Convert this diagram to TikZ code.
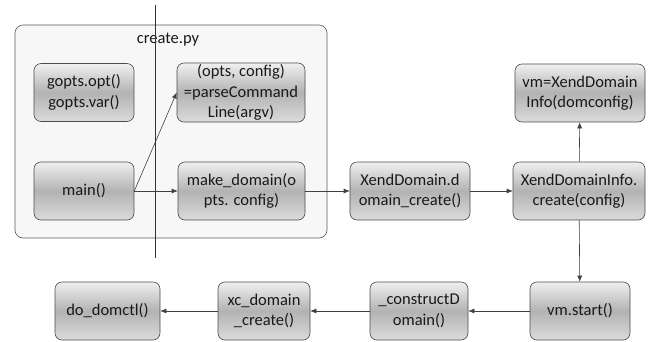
\documentclass[tikz,border=0pt]{standalone}
\usepackage{fontspec}
\setmainfont{Carlito}
\usepackage{tikz}
\usetikzlibrary{arrows.meta}

\begin{document}
\begin{tikzpicture}[x=1pt,y=-1pt,->,>={Latex[length=6pt,width=5pt]},color=black!75,line width=0.6pt]
  \tikzstyle{box}=[draw=black!70, rounded corners=7pt, align=center, text=black!90,
    top color=black!6, bottom color=black!14, middle color=black!30,
    minimum height=58pt, inner sep=0pt, font=\fontsize{16.5}{20.5}\selectfont]
  \useasboundingbox (0,0) rectangle (654,341);
  \node[draw=black!65, fill=black!3, rounded corners=8pt, minimum width=312pt, minimum height=213pt] (C_py) at (171,131.5) {};
  \node[text=black!90, font=\fontsize{16.5}{20.5}\selectfont] (C_lbl) at (168,40) {create.py};

  \node[box, minimum width=100pt] (B_gopts) at (84,92.5) {gopts.opt()\\gopts.var()};
  \node[box, minimum width=100pt] (B_main) at (84,191) {main()};
  \node[box, minimum width=128pt, minimum height=59pt] (B_parse) at (241,92.5) {(opts, config)\\=parseCommand\\Line(argv)};
  \node[box, minimum width=127pt] (B_make) at (241.5,191) {make\_domain(o\\pts. config)};
  \node[box, minimum width=120pt] (B_xdc) at (410,191) {XendDomain.d\\omain\_create()};
  \node[box, minimum width=132pt] (B_xdi) at (579,191) {XendDomainInfo.\\create(config)};
  \node[box, minimum width=130pt] (B_vm) at (580,93) {vm=XendDomain\\Info(domconfig)};
  \node[box, minimum width=100pt] (B_start) at (580,311) {vm.start()};
  \node[box, minimum width=98pt] (B_cons) at (419,311) {\_constructD\\omain()};
  \node[box, minimum width=92pt] (B_xc) at (264,311) {xc\_domain\\\_create()};
  \node[box, minimum width=105pt] (B_ctl) at (107.5,311) {do\_domctl()};

  \draw (B_main.east) -- (B_parse.west);
  \draw (B_main) -- (B_make);
  \draw (B_make) -- (B_xdc);
  \draw (B_xdc) -- (B_xdi);
  \draw (B_xdi) -- (B_vm);
  \draw (B_xdi) -- (B_start);
  \draw (B_start) -- (B_cons);
  \draw (B_cons) -- (B_xc);
  \draw (B_xc) -- (B_ctl);

  \draw[-, black!80] (155,5) -- (155,258);
\end{tikzpicture}
\end{document}
